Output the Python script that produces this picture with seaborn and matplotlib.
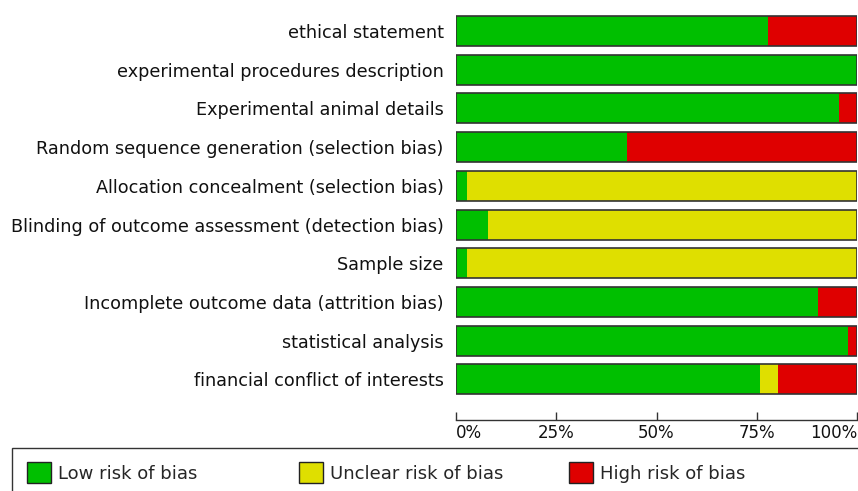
import matplotlib
matplotlib.use("Agg")
import matplotlib.pyplot as plt
import seaborn as sns
import pandas as pd
import numpy as np
from matplotlib.patches import Patch, Rectangle

categories = [
    "ethical statement",
    "experimental procedures description",
    "Experimental animal details",
    "Random sequence generation (selection bias)",
    "Allocation concealment (selection bias)",
    "Blinding of outcome assessment (detection bias)",
    "Sample size",
    "Incomplete outcome data (attrition bias)",
    "statistical analysis",
    "financial conflict of interests",
]
low = [77.8, 100.0, 95.5, 42.7, 2.8, 7.9, 2.8, 90.3, 97.8, 75.8]
unclear = [0.0, 0.0, 0.0, 0.0, 97.2, 92.1, 97.2, 0.0, 0.0, 4.6]
high = [22.2, 0.0, 4.5, 57.3, 0.0, 0.0, 0.0, 9.7, 2.2, 19.6]
series_names = ["Low risk of bias", "Unclear risk of bias", "High risk of bias"]
colors = ["#00bf00", "#dfdf00", "#df0000"]
xticks = [0, 25, 50, 75, 100]
xticklabels = ["0%", "25%", "50%", "75%", "100%"]

df = pd.DataFrame({"cat": categories, "low": low, "unclear": unclear, "high": high})
df["c_low"] = df["low"]
df["c_unclear"] = df["low"] + df["unclear"]
df["c_high"] = df["low"] + df["unclear"] + df["high"]

sns.set_theme(style="white")
plt.rcParams["font.family"] = ["DejaVu Sans"]

fig = plt.figure(figsize=(8.58, 4.91), dpi=100)
ax = fig.add_axes([456 / 858, 1 - 398.7 / 491, 401 / 858, (398.7 - 11.6) / 491])

w = 0.775
for col, c in zip(["c_high", "c_unclear", "c_low"], [colors[2], colors[1], colors[0]]):
    sns.barplot(data=df, y="cat", x=col, order=categories, color=c, width=w,
                linewidth=0, ax=ax, orient="h", saturation=1)
sns.barplot(data=df, y="cat", x="c_high", order=categories, width=w, fill=False,
            edgecolor="#333333", linewidth=1.2, ax=ax, orient="h")

ax.set_xlim(0, 100)
ax.set_ylim(9.5, -0.5)
ax.set_xlabel("")
ax.set_ylabel("")
for s in ["top", "right", "left"]:
    ax.spines[s].set_visible(False)
ax.spines["bottom"].set_position(("outward", 15))
ax.spines["bottom"].set_color("#333333")
ax.spines["bottom"].set_linewidth(1.0)
ax.set_xticks(xticks)
ax.set_xticklabels(xticklabels, fontsize=12, color="#111111")
tl = ax.get_xticklabels()
tl[0].set_horizontalalignment("left")
tl[-1].set_horizontalalignment("right")
ax.tick_params(axis="x", direction="in", length=6, width=1, color="#333333", pad=3, bottom=True)
ax.tick_params(axis="y", length=0, pad=9, labelsize=12.7, labelcolor="#111111")

# legend frame
fig.patches.append(Rectangle((12 / 858, -0.05), 0.99, 0.05 + (1 - 448 / 491),
                             transform=fig.transFigure, facecolor="white",
                             edgecolor="#333333", linewidth=1.0, zorder=0))
leg_x = [27, 299, 569]
for name, c, x in zip(series_names, colors, leg_x):
    h = Patch(facecolor=c, edgecolor="#222222", linewidth=1)
    fig.legend([h], [name], loc="center left", bbox_to_anchor=(x / 858, 1 - 472.5 / 491),
               frameon=False, fontsize=13, handlelength=1.35, handleheight=1.35,
               handletextpad=0.35, borderpad=0, borderaxespad=0)

fig.savefig("out.png", dpi=100)
